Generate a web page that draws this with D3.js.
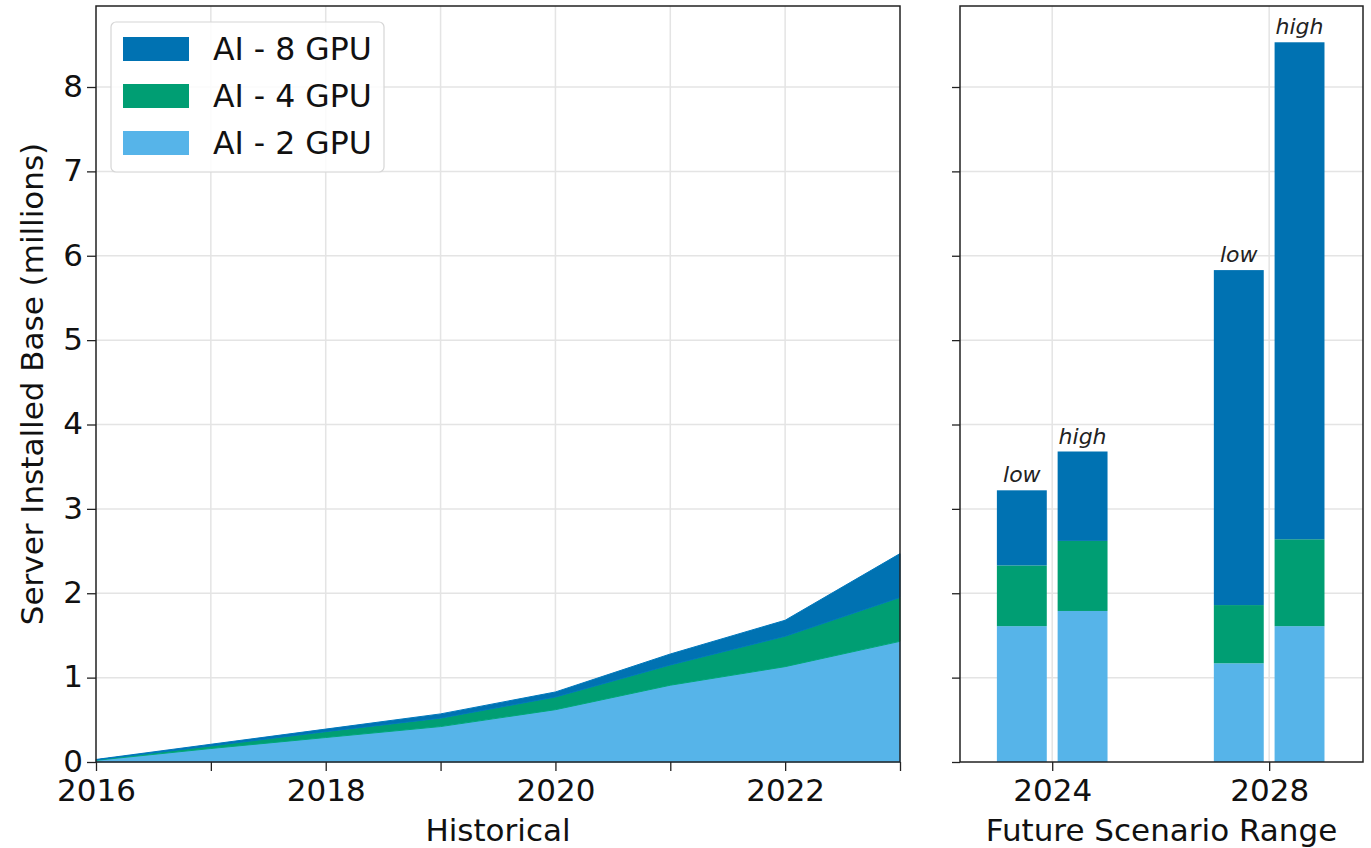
<!DOCTYPE html>
<html>
<head>
<meta charset="utf-8">
<script src="https://cdn.jsdelivr.net/npm/d3@7"></script>
<style>
  html, body { margin: 0; padding: 0; background: #fff; }
  svg { display: block; font-family: "DejaVu Sans", sans-serif; }
</style>
</head>
<body>
<svg id="chart" width="1371" height="848"></svg>
<script>
// Historical installed base (millions), by server type
const histYears = [2016, 2017, 2018, 2019, 2020, 2021, 2022, 2023];
const hist2GPU = [0.02, 0.16, 0.29, 0.42, 0.62, 0.91, 1.13, 1.43];
const hist4GPU = [0.005, 0.03, 0.07, 0.10, 0.15, 0.24, 0.36, 0.52];
const hist8GPU = [0.005, 0.02, 0.03, 0.05, 0.06, 0.13, 0.19, 0.52];

// Future scenarios: one entry per (year, scenario)
const futureYears = [2024, 2024, 2028, 2028];
const futureScenario = ["low", "high", "low", "high"];
const future2GPU = [1.61, 1.79, 1.17, 1.61];
const future4GPU = [0.72, 0.83, 0.69, 1.03];
const future8GPU = [0.89, 1.06, 3.97, 5.89];

const seriesKeys = ["AI - 2 GPU", "AI - 4 GPU", "AI - 8 GPU"];
const seriesColors = ["#56B4E9", "#009E73", "#0072B2"];
const legendOrder = ["AI - 8 GPU", "AI - 4 GPU", "AI - 2 GPU"];

const yTicks = [0, 1, 2, 3, 4, 5, 6, 7, 8];
const histTickYears = [2016, 2017, 2018, 2019, 2020, 2021, 2022, 2023];
const histLabelYears = [2016, 2018, 2020, 2022];
const futureTickYears = [2024, 2028];

const svg = d3.select("#chart");
const color = d3.scaleOrdinal(seriesKeys, seriesColors);

const plotTop = 6, plotBottom = 762;
const y = d3.scaleLinear([0, 8.96], [plotBottom, plotTop]);

const xL = d3.scaleLinear([2016, 2023], [96, 900]);
const xR = d3.scaleLinear([2022.3, 2029.73], [960, 1363]);

const gridColor = "#e4e4e4";
const fontSize = 31;

function drawGrid(g, xs, xVals, x0, x1) {
  g.append("g").selectAll("line").data(yTicks.filter(d => d > 0)).join("line")
    .attr("x1", x0).attr("x2", x1)
    .attr("y1", d => y(d)).attr("y2", d => y(d))
    .attr("stroke", gridColor).attr("stroke-width", 1.5);
  g.append("g").selectAll("line").data(xVals).join("line")
    .attr("x1", d => xs(d)).attr("x2", d => xs(d))
    .attr("y1", plotTop).attr("y2", plotBottom)
    .attr("stroke", gridColor).attr("stroke-width", 1.5);
}

// ---------- Left panel: historical stacked area ----------
const left = svg.append("g");
drawGrid(left, xL, histTickYears.filter(d => d > 2016 && d < 2023), 96, 900);

const histRows = histYears.map((yr, i) => ({
  year: yr,
  "AI - 2 GPU": hist2GPU[i],
  "AI - 4 GPU": hist4GPU[i],
  "AI - 8 GPU": hist8GPU[i]
}));
const histStack = d3.stack().keys(seriesKeys)(histRows);
const area = d3.area()
  .x(d => xL(d.data.year))
  .y0(d => y(d[0]))
  .y1(d => y(d[1]));
left.append("g").selectAll("path").data(histStack).join("path")
  .attr("d", area)
  .attr("fill", d => color(d.key))
  .attr("stroke", d => d3.color(color(d.key)).brighter(0.15))
  .attr("stroke-width", 1);

// axes
const axL = d3.axisLeft(y).tickValues(yTicks).tickSize(9).tickPadding(4).tickFormat(d3.format("d"));
const axLg = left.append("g").attr("transform", "translate(96,0)").call(axL);
const axB = d3.axisBottom(xL).tickValues(histTickYears).tickSize(9).tickPadding(8)
  .tickFormat(d => histLabelYears.includes(d) ? String(d) : "");
const axBg = left.append("g").attr("transform", `translate(0,${plotBottom})`).call(axB);
[axLg, axBg].forEach(a => {
  a.select(".domain").remove();
  a.selectAll("line").attr("stroke", "#222").attr("stroke-width", 1.3);
  a.selectAll("text").attr("font-size", fontSize).attr("fill", "#111").attr("font-family", "DejaVu Sans");
});
axLg.selectAll("text").attr("dy", "0.3em");
left.append("rect").attr("x", 96).attr("y", plotTop).attr("width", 900 - 96).attr("height", plotBottom - plotTop)
  .attr("fill", "none").attr("stroke", "#222").attr("stroke-width", 1.5);

left.append("text").attr("x", (96 + 900) / 2).attr("y", 841)
  .attr("text-anchor", "middle").attr("font-size", fontSize).attr("fill", "#111").text("Historical");
left.append("text")
  .attr("transform", `translate(43,${(plotTop + plotBottom) / 2}) rotate(-90)`)
  .attr("text-anchor", "middle").attr("font-size", fontSize).attr("fill", "#111")
  .text("Server Installed Base (millions)");

// legend
const leg = left.append("g");
leg.append("rect").attr("x", 111).attr("y", 22).attr("width", 273).attr("height", 150)
  .attr("rx", 5).attr("fill", "#fff").attr("fill-opacity", 0.85)
  .attr("stroke", "#d6d6d6").attr("stroke-width", 1.2);
const legItems = leg.selectAll("g.item").data(legendOrder).join("g")
  .attr("class", "item")
  .attr("transform", (d, i) => `translate(0,${37 + i * 47})`);
legItems.append("rect").attr("x", 123).attr("y", 0).attr("width", 66).attr("height", 24)
  .attr("fill", d => color(d));
legItems.append("text").attr("x", 213).attr("y", 12).attr("dy", "0.36em")
  .attr("font-size", 31.5).attr("fill", "#111").text(d => d);

// ---------- Right panel: future scenario bars ----------
const right = svg.append("g");
drawGrid(right, xR, futureTickYears, 960, 1363);

const futRows = futureYears.map((yr, i) => ({
  year: yr,
  scenario: futureScenario[i],
  "AI - 2 GPU": future2GPU[i],
  "AI - 4 GPU": future4GPU[i],
  "AI - 8 GPU": future8GPU[i]
}));
const futStack = d3.stack().keys(seriesKeys)(futRows);
const barOffset = 0.56, barWidth = 0.92;
const barCenter = d => d.year + (d.scenario === "low" ? -barOffset : barOffset);

right.append("g").selectAll("g").data(futStack).join("g")
  .attr("fill", d => color(d.key))
  .selectAll("rect").data(d => d).join("rect")
  .attr("x", d => xR(barCenter(d.data) - barWidth / 2))
  .attr("width", d => xR(barCenter(d.data) + barWidth / 2) - xR(barCenter(d.data) - barWidth / 2))
  .attr("y", d => y(d[1]))
  .attr("height", d => y(d[0]) - y(d[1]));

const topLayer = futStack[futStack.length - 1];
right.append("g").selectAll("text").data(topLayer).join("text")
  .attr("x", d => xR(barCenter(d.data)))
  .attr("y", d => y(d[1]) - 8)
  .attr("text-anchor", "middle").attr("font-size", 22).attr("font-style", "italic")
  .attr("fill", "#222").text(d => d.data.scenario);

const axR = d3.axisLeft(y).tickValues(yTicks).tickSize(8).tickFormat("");
const axRg = right.append("g").attr("transform", "translate(960,0)").call(axR);
const axRB = d3.axisBottom(xR).tickValues(futureTickYears).tickSize(9).tickPadding(8).tickFormat(d3.format("d"));
const axRBg = right.append("g").attr("transform", `translate(0,${plotBottom})`).call(axRB);
[axRg, axRBg].forEach(a => {
  a.select(".domain").remove();
  a.selectAll("line").attr("stroke", "#222").attr("stroke-width", 1.3);
  a.selectAll("text").attr("font-size", fontSize).attr("fill", "#111").attr("font-family", "DejaVu Sans");
});
right.append("rect").attr("x", 960).attr("y", plotTop).attr("width", 1363 - 960).attr("height", plotBottom - plotTop)
  .attr("fill", "none").attr("stroke", "#222").attr("stroke-width", 1.5);

right.append("text").attr("x", (960 + 1363) / 2).attr("y", 841)
  .attr("text-anchor", "middle").attr("font-size", fontSize).attr("fill", "#111")
  .text("Future Scenario Range");
</script>
</body>
</html>
